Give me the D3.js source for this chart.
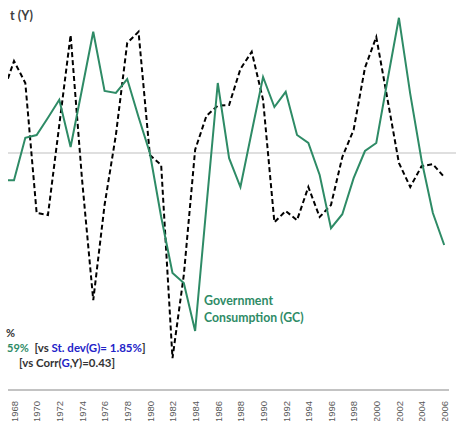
<!DOCTYPE html>
<html><head><meta charset="utf-8">
<script src="https://cdn.jsdelivr.net/npm/d3@7/dist/d3.min.js"></script>
<style>
html,body{margin:0;padding:0;background:#fff;}
svg{display:block;}
</style></head>
<body>
<svg id="chart" width="456" height="421"></svg>
<script>
const years = d3.range(1967, 2007);
const tickYears = d3.range(1968, 2007, 2);
// Government consumption (GC), cyclical component, %
const gc = [-0.68,-0.68,0.38,0.45,0.88,1.33,0.15,1.58,3.03,1.55,
            1.50,1.85,0.90,0.00,-1.60,-3.00,-3.25,-4.45,-1.33,1.75,
            -0.13,-0.85,0.53,1.90,1.15,1.53,0.45,0.25,-0.55,-1.88,
            -1.53,-0.63,0.05,0.25,1.83,3.38,1.48,-0.18,-1.50,-2.30];
// Output (Y), cyclical component, %
const out = [1.48,2.30,1.75,-1.50,-1.55,0.70,2.95,-0.63,-3.68,-1.30,
             0.45,2.75,3.03,-0.05,-0.30,-5.13,-3.05,0.08,0.93,1.18,
             1.20,2.10,2.53,1.33,-1.73,-1.45,-1.68,-0.85,-1.60,-1.30,
             -0.10,0.58,2.13,2.90,1.33,-0.25,-0.85,-0.33,-0.28,-0.60];

const green = "#2E8B66", blue = "#2323C8", dark = "#333333";
const svg = d3.select("#chart");
const x = d3.scaleLinear().domain([1968, 2006]).range([14, 444.2]);
const y = d3.scaleLinear().domain([-5, 3.5]).range([353, 13]);

svg.append("defs").append("clipPath").attr("id","plot")
  .append("rect").attr("x",8).attr("y",0).attr("width",448).attr("height",390);

// zero line
svg.append("line").attr("x1",8).attr("x2",456).attr("y1",y(0)).attr("y2",y(0))
  .attr("stroke","#BFBFBF").attr("stroke-width",1.2);

const g = svg.append("g").attr("clip-path","url(#plot)");
const line = d3.line().x((d,i)=>x(years[i])).y(d=>y(d));
g.append("path").datum(out).attr("d",line).attr("fill","none")
  .attr("stroke","#000").attr("stroke-width",2).attr("stroke-dasharray","5,3");
g.append("path").datum(gc).attr("d",line).attr("fill","none")
  .attr("stroke",green).attr("stroke-width",2);

// axis
const ax = svg.append("g").attr("transform","translate(0,390)")
  .call(d3.axisBottom(x).tickValues(tickYears).tickFormat(d3.format("d")).tickSize(0));
ax.select(".domain").remove();
ax.append("line").attr("x1",8).attr("x2",449).attr("y1",0).attr("y2",0)
  .attr("stroke","#888").attr("stroke-width",1.2);
ax.selectAll(".tick text")
  .attr("transform","translate(0,11) rotate(-90)")
  .attr("text-anchor","end").attr("x",0).attr("y",0).attr("dy","0.35em")
  .attr("font-family","Liberation Sans, Arial, sans-serif").attr("font-size",9.5)
  .attr("fill","#595959");

// annotations
const f = "Lato, 'Open Sans', sans-serif";
svg.append("text").attr("x",10).attr("y",20).attr("font-family",f).attr("font-weight","bold")
  .attr("font-size",12.5).attr("fill","#404040").text("t (Y)");
svg.append("text").attr("x",6).attr("y",337).attr("font-family",f).attr("font-weight","bold")
  .attr("font-size",11).attr("fill",dark).text("%");
svg.append("text").attr("x",7).attr("y",352).attr("font-family",f).attr("font-weight","bold")
  .attr("font-size",11).attr("fill",green).text("59%");
const t1 = svg.append("text").attr("x",34.5).attr("y",352).attr("font-family",f)
  .attr("font-weight","bold").attr("font-size",11).attr("textLength",111)
  .attr("lengthAdjust","spacingAndGlyphs");
t1.append("tspan").attr("fill",dark).text("[vs ");
t1.append("tspan").attr("fill",blue).text("St. dev(G)= 1.85%");
t1.append("tspan").attr("fill",dark).text("]");
const t2 = svg.append("text").attr("x",19).attr("y",366.5).attr("font-family",f)
  .attr("font-weight","bold").attr("font-size",11).attr("textLength",96)
  .attr("lengthAdjust","spacingAndGlyphs");
t2.append("tspan").attr("fill",dark).text("[vs Corr(");
t2.append("tspan").attr("fill",blue).text("G");
t2.append("tspan").attr("fill",dark).text(",Y)=0.43]");

svg.append("text").attr("x",204).attr("y",305).attr("font-family",f).attr("font-weight","bold")
  .attr("font-size",12.5).attr("fill",green).attr("textLength",69)
  .attr("lengthAdjust","spacingAndGlyphs").text("Government");
svg.append("text").attr("x",204).attr("y",322).attr("font-family",f).attr("font-weight","bold")
  .attr("font-size",12.5).attr("fill",green).attr("textLength",99.5)
  .attr("lengthAdjust","spacingAndGlyphs").text("Consumption (GC)");
</script>
</body></html>
